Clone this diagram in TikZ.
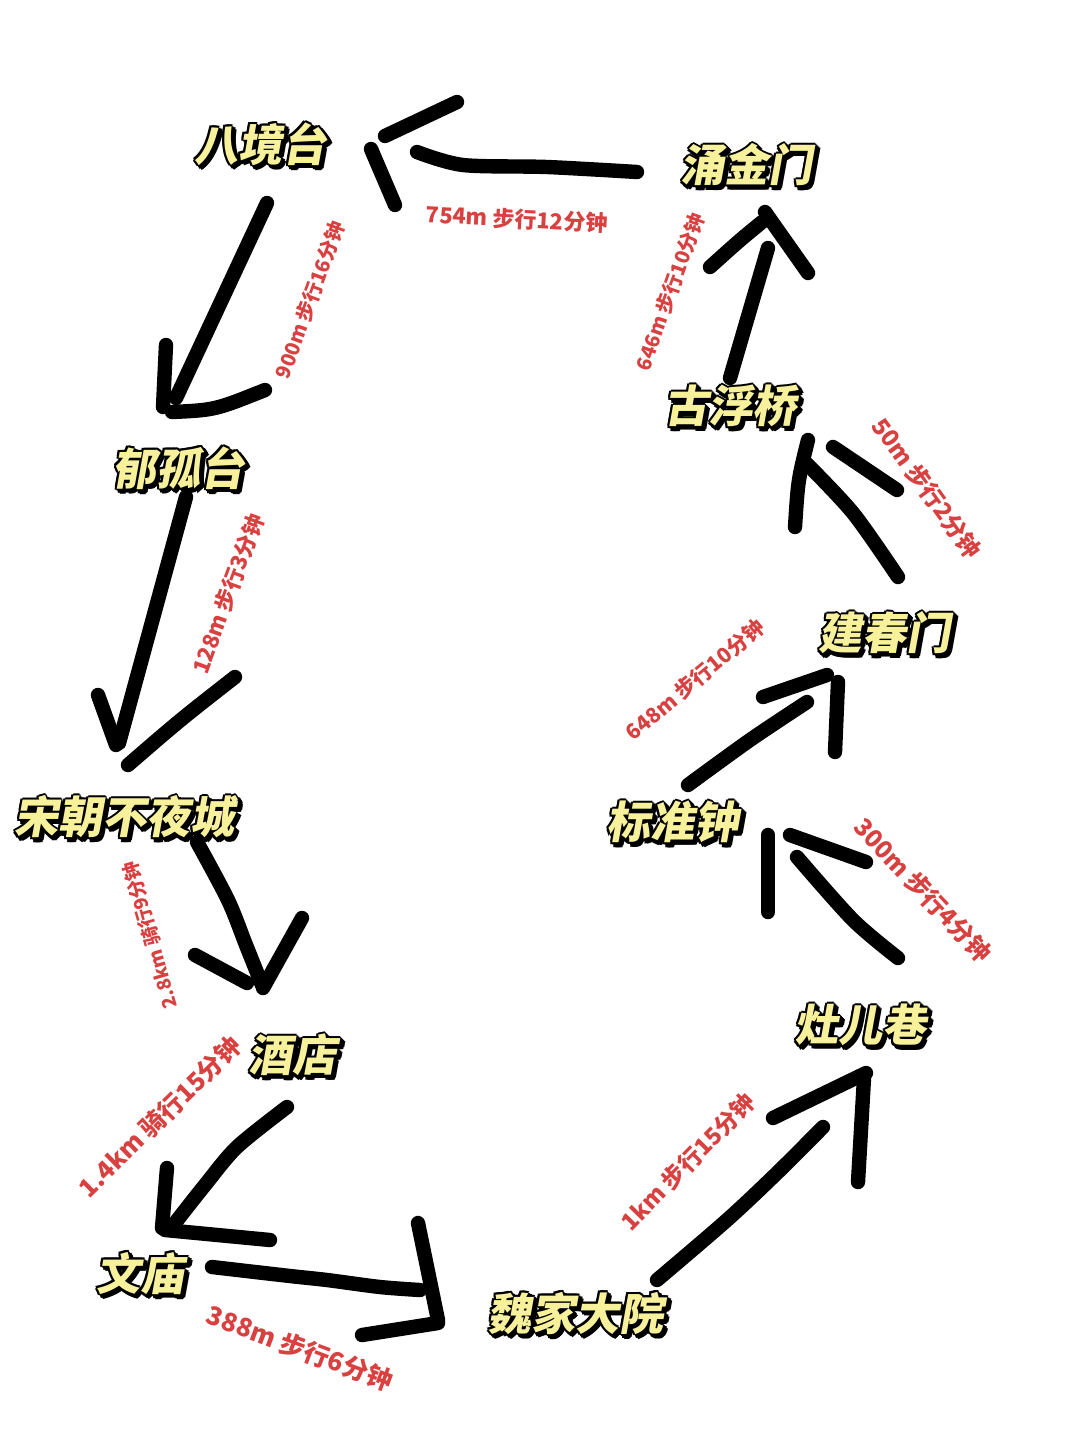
\documentclass[tikz,border=0pt]{standalone}
\usepackage{fontspec}
\newfontfamily\cjk{Noto Sans CJK SC}[FakeSlant=0.18]
\newfontfamily\cjkr{Noto Sans CJK SC}
\definecolor{yfill}{HTML}{F8F19C}
\definecolor{redtxt}{HTML}{D8413F}
\tikzset{
  pen/.style={line width=7.2pt, line cap=round, line join=round, black},
  ytxt/.style={font=\cjk\bfseries\fontsize{22}{24}\selectfont, inner sep=0pt},
  rtxt/.style={font=\cjkr\bfseries\fontsize{#1}{13}\selectfont, text=redtxt, inner sep=0pt},
  rtxt/.default=11,
}
\newcommand\ylab[3]{%
  \foreach \d in {0,45,...,315}{%
    \pgfmathsetmacro\ox{1.0*cos(\d)}%
    \pgfmathsetmacro\oy{1.0*sin(\d)}%
    \node[ytxt,text=black,xshift={\ox pt+1.5pt},yshift={\oy pt-1.5pt}] at (#2) {#3};
    \node[ytxt,text=black,xshift={\ox pt},yshift={\oy pt}] at (#2) {#3};
  }
  \node[ytxt,text=yfill] (#1) at (#2) {#3};
}
\begin{document}
\begin{tikzpicture}[x=0.5pt,y=-0.5pt]
\fill[white] (0,0) rectangle (1080,1440);
\useasboundingbox (0,0) rectangle (1080,1440);

% place labels
\ylab{bjt}{260,144}{八境台}
\ylab{yjm}{746,165}{涌金门}
\ylab{gfq}{730,406}{古浮桥}
\ylab{ygt}{178,468}{郁孤台}
\ylab{jcm}{884,633}{建春门}
\ylab{scb}{124,817}{宋朝不夜城}
\ylab{bzz}{672,822}{标准钟}
\ylab{zey}{860,1025}{灶儿巷}
\ylab{jd}{292,1055}{酒店}
\ylab{wm}{140,1273}{文庙}
\ylab{wjd}{575,1313}{魏家大院}

% red distance labels
\node[rtxt=11,rotate=-3] (d1) at (517,219) {754m 步行12分钟};
\node[rtxt=10,rotate=70] (d2) at (310,300) {900m 步行16分钟};
\node[rtxt=11,rotate=70] (d3) at (228,594) {128m 步行3分钟};
\node[rtxt=9.5,rotate=106] (d4) at (150,935) {2.8km 骑行9分钟};
\node[rtxt=12.5,rotate=44.5] (d5) at (160,1117) {1.4km 骑行15分钟};
\node[rtxt=12.8,rotate=-20.5] (d6) at (300,1348) {388m 步行6分钟};
\node[rtxt=11.7,rotate=45.6] (d7) at (688,1162) {1km 步行15分钟};
\node[rtxt=12.2,rotate=-46.5] (d8) at (923,890) {300m 步行4分钟};
\node[rtxt=10.5,rotate=40] (d9) at (695,680) {648m 步行10分钟};
\node[rtxt=11.8,rotate=-54] (d10) at (927,488) {50m 步行2分钟};
\node[rtxt=10,rotate=70.4] (d11) at (670,292) {646m 步行10分钟};

% arrow 1: 涌金门 -> 八境台
\draw[pen] plot[smooth] coordinates {(637,172) (547,167) (463,165) (417,152)};
\draw[pen] (385,136) -- (457,102);
\draw[pen] (371,149) -- (395,205);
% arrow 2: 八境台 -> 郁孤台
\draw[pen] (267,203) -- (176,398);
\draw[pen] (166,345) -- (163,407);
\draw[pen] (172,412) .. controls (215,410) .. (265,390);
% arrow 3: 郁孤台 -> 宋朝不夜城
\draw[pen] (186,497) -- (119,743);
\draw[pen] (98,695) -- (116,745);
\draw[pen] (128,765) .. controls (180,720) .. (235,677);
% arrow 4: 宋朝不夜城 -> 酒店
\draw[pen] plot[smooth] coordinates {(197,842) (228,900) (246,945) (262,985)};
\draw[pen] (195,955) -- (247,983);
\draw[pen] (302,918) -- (263,988);
% arrow 5: 酒店 -> 文庙
\draw[pen] plot[smooth] coordinates {(287,1107) (237,1147) (205,1185) (175,1223)};
\draw[pen] (167,1168) -- (162,1228);
\draw[pen] (165,1230) -- (270,1240);
% arrow 6: 文庙 -> 魏家大院
\draw[pen] plot[smooth] coordinates {(212,1267) (290,1276) (327,1280) (380,1287) (420,1290)};
\draw[pen] (418,1223) -- (438,1320);
\draw[pen] (362,1335) -- (438,1323);
% arrow 7: 魏家大院 -> 灶儿巷
\draw[pen] plot[smooth] coordinates {(657,1280) (727,1220) (777,1173) (823,1127)};
\draw[pen] (773,1118) -- (866,1073);
\draw[pen] (864,1078) -- (858,1182);
% arrow 8: 灶儿巷 -> 标准钟
\draw[pen] (768,835) -- (768,912);
\draw[pen] (790,835) -- (866,862);
\draw[pen] plot[smooth] coordinates {(797,857) (853,920) (898,958)};
% arrow 9: 标准钟 -> 建春门
\draw[pen] plot[smooth] coordinates {(688,785) (750,740) (807,702)};
\draw[pen] (763,697) -- (827,675);
\draw[pen] (838,682) -- (835,752);
% arrow 10: 建春门 -> 古浮桥
\draw[pen] plot[smooth] coordinates {(898,577) (853,513) (805,462)};
\draw[pen] (808,440) .. controls (798,480) .. (795,527);
\draw[pen] (833,447) -- (897,490);
% arrow 11: 古浮桥 -> 涌金门
\draw[pen] (730,378) -- (768,248);
\draw[pen] (710,267) .. controls (740,240) .. (762,222);
\draw[pen] (765,212) -- (808,273);
\end{tikzpicture}
\end{document}
